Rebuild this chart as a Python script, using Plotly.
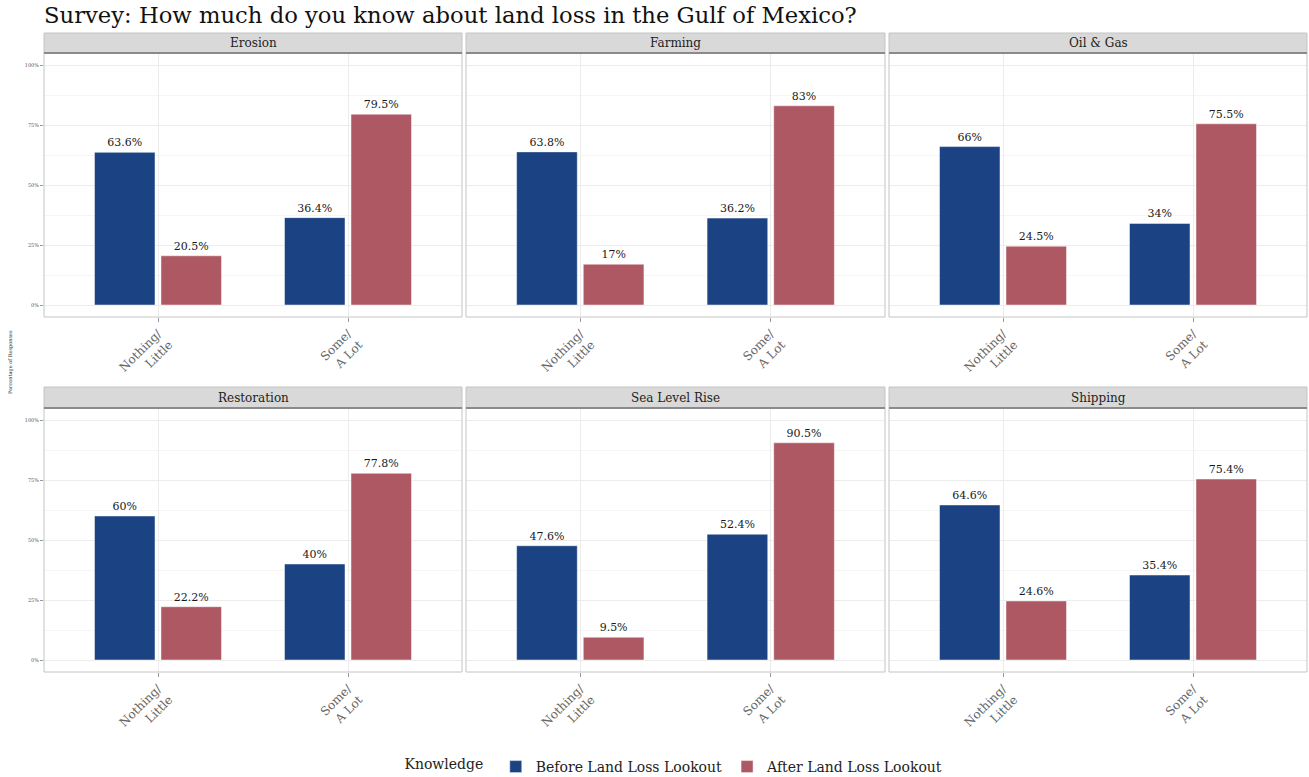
import plotly.graph_objects as go

title = "Survey: How much do you know about land loss in the Gulf of Mexico?"
facets = ["Erosion", "Farming", "Oil & Gas", "Restoration", "Sea Level Rise", "Shipping"]
categories = ["Nothing/<br>Little", "Some/<br>A Lot"]
series_names = ["Before Land Loss Lookout", "After Land Loss Lookout"]
before_vals = [[63.6, 36.4], [63.8, 36.2], [66, 34], [60, 40], [47.6, 52.4], [64.6, 35.4]]
after_vals = [[20.5, 79.5], [17, 83], [24.5, 75.5], [22.2, 77.8], [9.5, 90.5], [24.6, 75.4]]
y_ticks = [0, 25, 50, 75, 100]

W, H = 1309, 777
SERIF = "DejaVu Serif"
BLUE = "#1b4282"
RED = "#ae5864"

cols_px = [(44, 462), (466, 885), (889, 1307)]
rows_px = [dict(strip=(33, 53), panel=(53, 317)), dict(strip=(387, 408), panel=(408, 672))]


def fx(p):
    return p / W


def fy(p):
    return 1 - p / H


fig = go.Figure()
shapes = []
annotations = []

for i, facet in enumerate(facets):
    r, c = divmod(i, 3)
    n = i + 1
    xa = "x" if n == 1 else f"x{n}"
    ya = "y" if n == 1 else f"y{n}"
    for s, (vals, color) in enumerate([(before_vals[i], BLUE), (after_vals[i], RED)]):
        fig.add_trace(go.Bar(
            x=categories, y=vals, name=series_names[s],
            marker=dict(color=color, line=dict(color="rgba(255,255,255,0.6)", width=0.8)),
            text=[f"{v:g}%" for v in vals], textposition="outside",
            textfont=dict(family=SERIF, size=11, color="#1a1a1a"),
            cliponaxis=False, xaxis=xa, yaxis=ya,
            showlegend=(i == 0), legendgroup=series_names[s],
            offsetgroup=str(s),
        ))
    x0, x1 = cols_px[c]
    p0, p1 = rows_px[r]["panel"]
    s0, s1 = rows_px[r]["strip"]
    xkey = "xaxis" if n == 1 else f"xaxis{n}"
    ykey = "yaxis" if n == 1 else f"yaxis{n}"
    fig.update_layout(**{
        xkey: dict(domain=[fx(x0), fx(x1)], anchor=ya, type="category",
                   categoryorder="array", categoryarray=categories,
                   range=[-0.6, 1.6], showgrid=True, gridcolor="#ececec", gridwidth=1,
                   ticks="outside", ticklen=4, tickcolor="#999999", tickangle=-45,
                   tickfont=dict(family=SERIF, size=12, color="#666666"),
                   showline=False, zeroline=False, fixedrange=True, automargin=False),
        ykey: dict(domain=[fy(p1), fy(p0)], anchor=xa, range=[-5, 105],
                   tickvals=y_ticks, ticktext=[f"{t}%" for t in y_ticks],
                   showticklabels=(c == 0), ticks="outside" if c == 0 else "",
                   ticklen=3, tickcolor="#999999",
                   tickfont=dict(family=SERIF, size=5, color="#555555"),
                   showgrid=True, gridcolor="#ececec", gridwidth=1,
                   minor=dict(dtick=12.5, tick0=0, showgrid=True, gridcolor="#f5f5f5", gridwidth=1),
                   zeroline=False, showline=False, fixedrange=True, automargin=False),
    })
    # panel border
    shapes.append(dict(type="rect", xref="paper", yref="paper",
                       x0=fx(x0), x1=fx(x1), y0=fy(p1), y1=fy(p0),
                       line=dict(color="#c4c4c4", width=1), fillcolor="rgba(0,0,0,0)", layer="above"))
    # strip
    shapes.append(dict(type="rect", xref="paper", yref="paper",
                       x0=fx(x0), x1=fx(x1), y0=fy(s1), y1=fy(s0),
                       line=dict(color="#c4c4c4", width=1), fillcolor="#d9d9d9", layer="below"))
    shapes.append(dict(type="line", xref="paper", yref="paper",
                       x0=fx(x0), x1=fx(x1), y0=fy(s1), y1=fy(s1),
                       line=dict(color="#8a8a8a", width=2)))
    annotations.append(dict(text=facet, xref="paper", yref="paper",
                            x=fx((x0 + x1) / 2), y=fy((s0 + s1) / 2),
                            xanchor="center", yanchor="middle", showarrow=False,
                            font=dict(family=SERIF, size=12, color="#222222")))

annotations.append(dict(text=title, xref="paper", yref="paper", x=fx(42), y=fy(15),
                        xanchor="left", yanchor="middle", showarrow=False,
                        font=dict(family=SERIF, size=22.7, color="#111111")))
annotations.append(dict(text="Percentage of Responses", xref="paper", yref="paper",
                        x=fx(10), y=fy(362), xanchor="center", yanchor="middle",
                        textangle=-90, showarrow=False,
                        font=dict(family=SERIF, size=5, color="#333333")))

fig.update_layout(
    width=W, height=H, margin=dict(l=0, r=0, t=0, b=0, autoexpand=False),
    paper_bgcolor="white", plot_bgcolor="white",
    barmode="group", bargap=0.3, bargroupgap=0.09,
    shapes=shapes, annotations=annotations,
    font=dict(family=SERIF),
    legend=dict(orientation="h", x=0.516, xanchor="center", y=fy(767), yanchor="middle",
                title=dict(text="Knowledge ", side="left", font=dict(family=SERIF, size=14, color="#222222")),
                font=dict(family=SERIF, size=14, color="#222222"),
                itemwidth=30, tracegroupgap=0),
)

fig.write_html("out.html", config=dict(displayModeBar=False),
               post_script="document.body.style.margin='0px';document.body.style.overflow='hidden';")
